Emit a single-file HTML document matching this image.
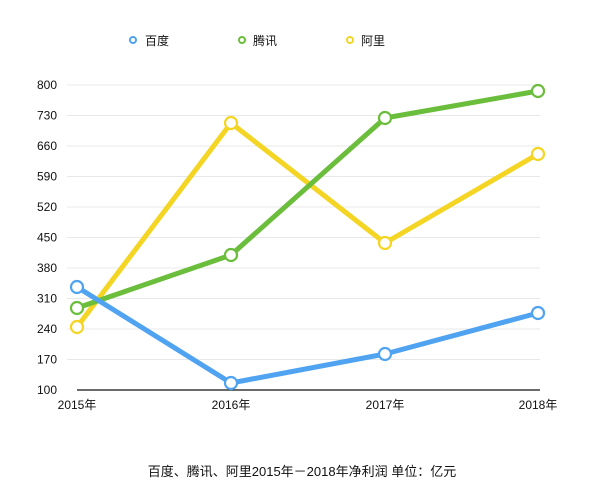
<!DOCTYPE html>
<html><head><meta charset="utf-8"><style>
html,body{margin:0;padding:0;background:#fff;}
svg text{font-family:"Liberation Sans","Noto Sans CJK SC",sans-serif;fill:#111;}
</style></head><body>
<svg width="604" height="487" viewBox="0 0 604 487" xmlns="http://www.w3.org/2000/svg">
<g font-size="12">
<circle cx="133" cy="40" r="3" fill="none" stroke="#4fa3f0" stroke-width="2"/><text x="145" y="45">百度</text>
<circle cx="242" cy="40" r="3" fill="none" stroke="#6bbd3c" stroke-width="2"/><text x="253" y="45">腾讯</text>
<circle cx="350" cy="40" r="3" fill="none" stroke="#f5d523" stroke-width="2"/><text x="361" y="45">阿里</text>
</g>
<g stroke="#e8e8e8" stroke-width="1">
<line x1="67" x2="540" y1="85" y2="85"/><line x1="67" x2="540" y1="115.5" y2="115.5"/><line x1="67" x2="540" y1="146" y2="146"/><line x1="67" x2="540" y1="176.5" y2="176.5"/><line x1="67" x2="540" y1="207" y2="207"/><line x1="67" x2="540" y1="237.5" y2="237.5"/><line x1="67" x2="540" y1="268" y2="268"/><line x1="67" x2="540" y1="298.5" y2="298.5"/><line x1="67" x2="540" y1="329" y2="329"/><line x1="67" x2="540" y1="359.5" y2="359.5"/>
</g>
<line x1="77" x2="540" y1="390" y2="390" stroke="#111" stroke-width="1.2"/>
<g font-size="12" text-anchor="end">
<text x="57" y="89">800</text><text x="57" y="119.5">730</text><text x="57" y="150">660</text><text x="57" y="180.5">590</text><text x="57" y="211">520</text><text x="57" y="241.5">450</text><text x="57" y="272">380</text><text x="57" y="302.5">310</text><text x="57" y="333">240</text><text x="57" y="363.5">170</text><text x="57" y="394">100</text>
</g>
<g font-size="12" text-anchor="middle">
<text x="77" y="409">2015年</text><text x="231" y="409">2016年</text><text x="385" y="409">2017年</text><text x="538" y="409">2018年</text>
</g>
<g fill="none" stroke-width="5" stroke-linejoin="round">
<polyline points="77,327 231,123 385,243 538,154" stroke="#f5d523"/>
<polyline points="77,308 231,255 385,118 538,91" stroke="#6bbd3c"/>
<polyline points="77,287 231,383 385,354 538,313" stroke="#4fa3f0"/>
</g>
<g fill="#fff" stroke-width="2.2">
<g stroke="#f5d523"><circle cx="77" cy="327" r="6"/><circle cx="231" cy="123" r="6"/><circle cx="385" cy="243" r="6"/><circle cx="538" cy="154" r="6"/></g>
<g stroke="#6bbd3c"><circle cx="77" cy="308" r="6"/><circle cx="231" cy="255" r="6"/><circle cx="385" cy="118" r="6"/><circle cx="538" cy="91" r="6"/></g>
<g stroke="#4fa3f0"><circle cx="77" cy="287" r="6"/><circle cx="231" cy="383" r="6"/><circle cx="385" cy="354" r="6"/><circle cx="538" cy="313" r="6"/></g>
</g>
<text x="302" y="476" font-size="13" text-anchor="middle">百度、腾讯、阿里2015年－2018年净利润 单位：亿元</text>
</svg>
</body></html>
